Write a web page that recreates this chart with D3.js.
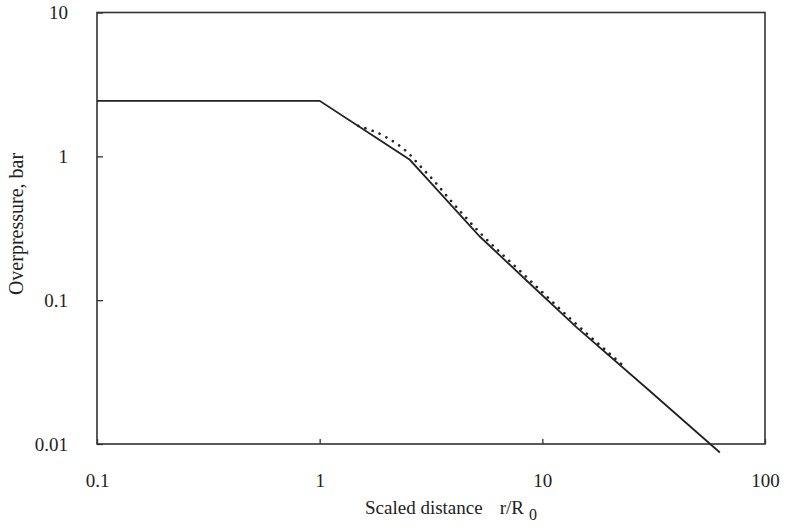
<!DOCTYPE html>
<html>
<head>
<meta charset="utf-8">
<script src="https://cdn.jsdelivr.net/npm/d3@7"></script>
<style>
  body { margin: 0; background: #fff; }
  text { font-family: "Liberation Serif", "Times New Roman", serif; fill: #222; }
</style>
</head>
<body>
<svg id="chart" width="785" height="532"></svg>
<script>
// tick labels
var xTicks = [0.1, 1, 10, 100];
var yTicks = [0.01, 0.1, 1, 10];

// solid curve: [scaled distance, overpressure]
var solidR = [0.1, 1, 2.54, 3.47, 5.25, 8.8, 14.3, 29.5, 62.7];
var solidP = [2.43, 2.43, 0.946, 0.558, 0.276, 0.130, 0.0644, 0.0243, 0.00873];

// dotted curve
var dotR = [1.49, 1.97, 2.49, 2.82, 3.23, 3.85, 5.25, 7.93, 14.3, 22.8];
var dotP = [1.63, 1.37, 1.06, 0.86, 0.687, 0.499, 0.294, 0.160, 0.0676, 0.0357];

(function() {
    var svg = d3.select("#chart");

    var x = d3.scaleLog().domain([0.1, 100]).range([97, 765]);
    var y = d3.scaleLog().domain([0.01, 10]).range([444, 12.5]);

    var fmt = function(d) { return String(d); };

    // bottom axis, ticks pointing in
    var gx = svg.append("g")
        .attr("transform", "translate(0,444)")
        .call(d3.axisBottom(x).tickValues(xTicks).tickFormat(fmt)
            .tickSizeInner(-5).tickSizeOuter(0).tickPadding(30));
    gx.select(".domain").remove();
    gx.selectAll("line").attr("stroke", "#333").attr("stroke-width", 1.3);
    gx.selectAll("text").style("font-size", "19px").attr("fill", "#222");

    // left axis
    var gy = svg.append("g")
        .attr("transform", "translate(97,0)")
        .call(d3.axisLeft(y).tickValues(yTicks).tickFormat(fmt)
            .tickSizeInner(-6).tickSizeOuter(0).tickPadding(29));
    gy.select(".domain").remove();
    gy.selectAll("line").attr("stroke", "#333").attr("stroke-width", 1.3);
    gy.selectAll("text").style("font-size", "19px").attr("fill", "#222");

    // frame
    svg.append("rect")
        .attr("x", x(0.1)).attr("y", y(10))
        .attr("width", x(100) - x(0.1))
        .attr("height", y(0.01) - y(10))
        .attr("fill", "none")
        .attr("stroke", "#333")
        .attr("stroke-width", 1.6);

    var solid = solidR.map(function(r, i) { return [r, solidP[i]]; });
    var dotted = dotR.map(function(r, i) { return [r, dotP[i]]; });

    var line = d3.line()
        .x(function(d) { return x(d[0]); })
        .y(function(d) { return y(d[1]); });

    svg.append("path")
        .datum(solid)
        .attr("d", line)
        .attr("fill", "none")
        .attr("stroke", "#222")
        .attr("stroke-width", 1.8);

    svg.append("path")
        .datum(dotted)
        .attr("d", line.curve(d3.curveMonotoneX))
        .attr("fill", "none")
        .attr("stroke", "#222")
        .attr("stroke-width", 2.6)
        .attr("stroke-linecap", "round")
        .attr("stroke-dasharray", "0.1 7.5");

    // axis titles
    var xt = svg.append("text")
        .attr("x", 365).attr("y", 514)
        .style("font-size", "19px");
    xt.append("tspan").text("Scaled distance");
    xt.append("tspan").attr("dx", 17).text("r/R");
    xt.append("tspan").attr("dx", 5).attr("dy", 6)
        .style("font-size", "16px").text("0");

    svg.append("text")
        .attr("transform", "translate(23,224) rotate(-90)")
        .attr("text-anchor", "middle")
        .style("font-size", "20px")
        .text("Overpressure, bar");
})();
</script>
</body>
</html>
